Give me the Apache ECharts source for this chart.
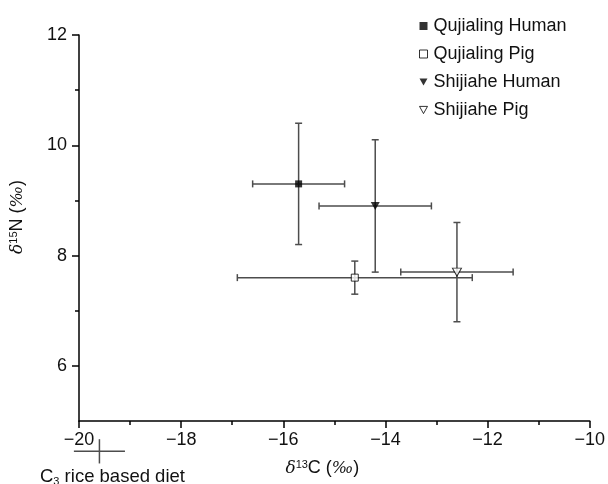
<!DOCTYPE html>
<html><head><meta charset="utf-8">
<script src="https://cdn.jsdelivr.net/npm/echarts@6/dist/echarts.min.js"></script>
<style>html,body{margin:0;padding:0;background:#fff}#c{width:608px;height:484px}</style>
</head><body><div id="c"></div>
<script>
const groups = ['Qujialing Human','Qujialing Pig','Shijiahe Human','Shijiahe Pig'];
const d13C = [-15.7, -14.6, -14.2, -12.6];
const d15N = [9.3, 7.6, 8.9, 7.7];
const errC = [0.9, 2.3, 1.1, 1.1];
const errN = [1.1, 0.3, 1.2, 0.9];
const filled = [true, false, true, false];
const shapes = ['rect','rect','down','down'];
const c3Diet = {x: -19.6, y: 4.45, ex: 0.5, ey: 0.22};
const xTicks = [-20,-18,-16,-14,-12,-10];
const yTicks = [6,8,10,12];
const yMinorTicks = [7,9,11];

const FONT = 'Liberation Sans, Arial, sans-serif';
const DOWN = 'path://M0,0 L10,0 L5,9 Z';
function sym(s){ return s==='rect' ? 'rect' : DOWN; }

function renderErr(params, api){
  const x=api.value(0), y=api.value(1), ex=api.value(2), ey=api.value(3), caps=api.value(4);
  const l=api.coord([x-ex,y]), r=api.coord([x+ex,y]);
  const t=api.coord([x,y+ey]), b=api.coord([x,y-ey]);
  const style={stroke:'#4d4d4d', lineWidth:1.5};
  const k=3.5;
  const ch=[
    {type:'line', shape:{x1:l[0],y1:l[1],x2:r[0],y2:r[1]}, style},
    {type:'line', shape:{x1:t[0],y1:t[1],x2:b[0],y2:b[1]}, style}
  ];
  if(caps){
    ch.push({type:'line', shape:{x1:l[0],y1:l[1]-k,x2:l[0],y2:l[1]+k}, style});
    ch.push({type:'line', shape:{x1:r[0],y1:r[1]-k,x2:r[0],y2:r[1]+k}, style});
    ch.push({type:'line', shape:{x1:t[0]-k,y1:t[1],x2:t[0]+k,y2:t[1]}, style});
    ch.push({type:'line', shape:{x1:b[0]-k,y1:b[1],x2:b[0]+k,y2:b[1]}, style});
  }
  return {type:'group', children:ch};
}

const series = [];
series.push({
  type:'custom', renderItem: renderErr, silent:true, z:1,
  encode:{x:0,y:1},
  data: groups.map((g,i)=>[d13C[i], d15N[i], errC[i], errN[i], 1])
});
series.push({
  type:'custom', renderItem: renderErr, silent:true, clip:false, z:1,
  encode:{x:0,y:1},
  data: [[c3Diet.x, c3Diet.y, c3Diet.ex, c3Diet.ey, 0]]
});
groups.forEach((g,i)=>{
  series.push({
    name:g, type:'scatter', z:3,
    symbol: sym(shapes[i]),
    symbolSize: shapes[i]==='rect' ? 7 : [9,8],
    itemStyle:{color: filled[i] ? '#000' : '#fff', borderColor:'#000', borderWidth: filled[i]?0:1},
    data:[[d13C[i], d15N[i]]]
  });
});

const richName = {
  d:{fontFamily:'DejaVu Serif, serif', fontStyle:'italic', fontSize:17, color:'#111'},
  s:{fontFamily:FONT, fontSize:11, color:'#111', verticalAlign:'top', padding:[0,0,8,0]},
  n:{fontFamily:FONT, fontSize:18, color:'#111'},
  p:{fontFamily:'DejaVu Serif, serif', fontStyle:'italic', fontSize:16, color:'#111'}
};

const chart = echarts.init(document.getElementById('c'), null, {renderer:'canvas'});
chart.setOption({
  animation:false,
  backgroundColor:'#fff',
  textStyle:{fontFamily:FONT},
  grid:{left:79, right:13, top:35, bottom:63},
  legend:{
    orient:'vertical', left:414, top:12, itemGap:10, itemWidth:8, itemHeight:8,
    textStyle:{fontFamily:FONT, fontSize:18, color:'#111', padding:[0,0,0,1]},
    data: groups.map((g,i)=>({name:g, icon: sym(shapes[i]),
      itemStyle:{color: filled[i] ? '#000' : '#fff', borderColor:'#000', borderWidth: filled[i]?0:1}}))
  },
  xAxis:{
    type:'value', min:-20, max:-10, interval:2,
    axisLine:{show:true, onZero:false, lineStyle:{color:'#000', width:1.5}},
    axisTick:{show:true, inside:false, length:7, lineStyle:{color:'#000', width:1.5}},
    minorTick:{show:true, splitNumber:2, length:4, lineStyle:{color:'#000', width:1.5}},
    splitLine:{show:false},
    axisLabel:{margin:10, fontSize:18, color:'#111', fontFamily:FONT,
      formatter:v=>String(v).replace('-','\u2212')},
    name:'{d|δ}{s|13}{n|C (}{p|‰}{n|)}', nameLocation:'middle', nameGap:38,
    nameTextStyle:{padding:[0,24,0,0], rich:richName}
  },
  yAxis:[{
    type:'value', min:5, max:12, interval:1,
    axisLine:{show:true, onZero:false, lineStyle:{color:'#000', width:1.5}},
    axisTick:{show:true, inside:false, length:7, lineStyle:{color:'#000', width:1.5},
      customValues: yTicks},
    splitLine:{show:false},
    axisLabel:{margin:12, fontSize:18, color:'#111', fontFamily:FONT,
      customValues: yTicks},
    name:'{d|δ}{s|15}{n|N (}{p|‰}{n|)}', nameLocation:'middle', nameGap:52,
    nameTextStyle:{padding:[0,0,0,22], rich:richName}
  },{
    type:'value', min:5, max:12, interval:1, position:'left', offset:0,
    axisLine:{show:false},
    axisTick:{show:true, inside:false, length:4, lineStyle:{color:'#000', width:1.5},
      customValues: yMinorTicks},
    axisLabel:{show:false},
    splitLine:{show:false}
  }],
  graphic:[{
    type:'text', left:40, top:467,
    style:{text:'C{sub|3} rice based diet', font:'18.5px '+FONT, fill:'#111',
      rich:{sub:{fontSize:11, fontFamily:FONT, fill:'#111', padding:[10,0,0,0]}}}
  }],
  series
});
</script>
</body></html>
